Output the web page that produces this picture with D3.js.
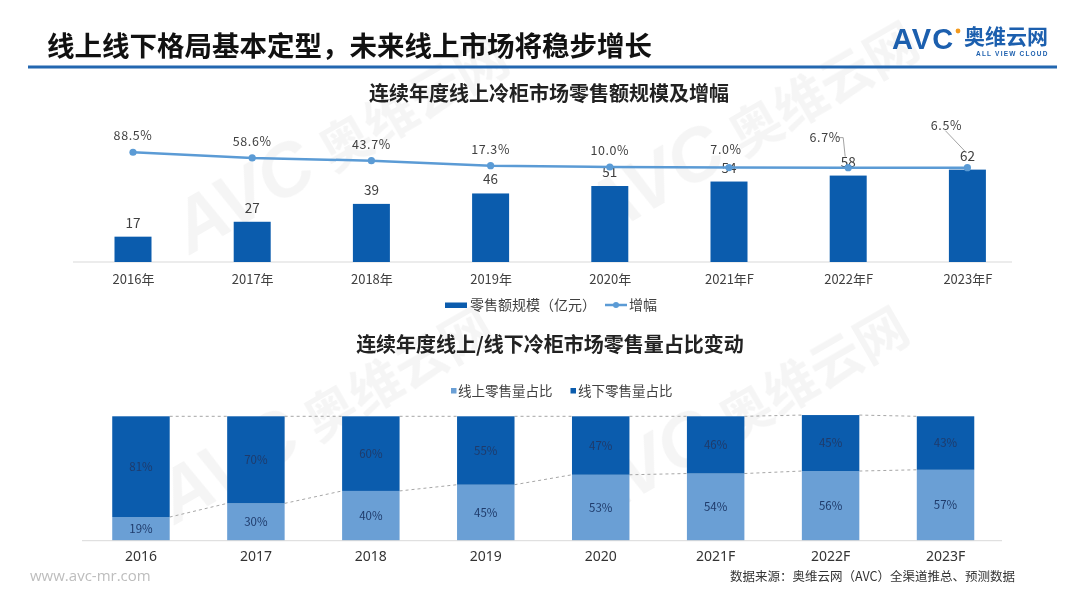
<!DOCTYPE html>
<html><head><meta charset="utf-8">
<script src="https://cdn.jsdelivr.net/npm/d3@7"></script>
<style>
html,body{margin:0;padding:0;background:#fff;}
svg{display:block;font-family:"Noto Sans CJK SC","Noto Sans",sans-serif;}
</style></head>
<body>
<svg id="c" width="1080" height="608"></svg>
<script>
// ---------- data ----------
const pageTitle = "线上线下格局基本定型，未来线上市场将稳步增长";
const title1 = "连续年度线上冷柜市场零售额规模及增幅";
const title2 = "连续年度线上/线下冷柜市场零售量占比变动";
const years1 = ["2016年","2017年","2018年","2019年","2020年","2021年F","2022年F","2023年F"];
const salesValues = [17, 27, 39, 46, 51, 54, 58, 62];          // 零售额规模（亿元）
const growthValues = [88.5, 58.6, 43.7, 17.3, 10.0, 7.0, 6.7, 6.5]; // 增幅 %
const legend1 = ["零售额规模（亿元）", "增幅"];
const years2 = ["2016","2017","2018","2019","2020","2021F","2022F","2023F"];
const onlineShare  = [19, 30, 40, 45, 53, 54, 56, 57];
const offlineShare = [81, 70, 60, 55, 47, 46, 45, 43];
const legend2 = ["线上零售量占比", "线下零售量占比"];
const sourceText = "数据来源：奥维云网（AVC）全渠道推总、预测数据";
const siteText = "www.avc-mr.com";

// ---------- styles ----------
const DARK = "#0b5cad", LIGHT = "#6a9fd5", LINE = "#5b9bd5", TXT = "#404040", INNER = "#1f3b6b";
const svg = d3.select("#c");

// faint watermarks
const wm = svg.append("g").attr("fill","#000").attr("opacity",0.04).style("pointer-events","none");
[[190,255],[600,240],[175,525],[590,525]].forEach(([x,y])=>{
  const g = wm.append("g").attr("transform",`translate(${x},${y}) rotate(-30)`);
  g.append("text").attr("font-family","Liberation Sans,Arial,sans-serif").attr("font-weight",700)
   .attr("font-style","italic").attr("font-size",74).text("AVC");
  g.append("text").attr("x",165).attr("font-weight",700).attr("font-size",52).text("奥维云网");
});

// header
svg.append("text").attr("x",47).attr("y",56).attr("font-size",27.5).attr("font-weight",700)
  .attr("fill","#111").text(pageTitle);
svg.append("line").attr("x1",28).attr("x2",1057).attr("y1",67).attr("y2",67)
  .attr("stroke","#2367b0").attr("stroke-width",3);
// logo
const logo = svg.append("g");
logo.append("text").attr("x",892).attr("y",49).attr("font-family","Liberation Sans,Arial,sans-serif")
  .attr("font-weight",700).attr("font-size",29).attr("letter-spacing",1).attr("fill","#1c5fae").text("AVC");
logo.append("circle").attr("cx",958).attr("cy",31).attr("r",2.4).attr("fill","#f39a1e");
logo.append("text").attr("x",964).attr("y",44).attr("font-weight",700).attr("font-size",21)
  .attr("fill","#1c5fae").text("奥维云网");
logo.append("text").attr("x",976).attr("y",56).attr("font-family","Liberation Sans,Arial,sans-serif")
  .attr("font-weight",700).attr("font-size",6.5).attr("letter-spacing",1.2).attr("fill","#1c5fae").text("ALL VIEW CLOUD");

// ---------- chart 1 ----------
svg.append("text").attr("x",549).attr("y",101).attr("text-anchor","middle").attr("font-size",20)
  .attr("font-weight",700).attr("fill","#222").text(title1);

const x1 = d3.scalePoint().domain(years1).range([73.4, 1027]).padding(0.5);
const y1 = d3.scaleLinear().domain([0,100]).range([262,113]);
const y2 = d3.scaleLinear().domain([0,100]).range([168.9,150.1]);
const BW1 = 37;

svg.append("line").attr("x1",73).attr("x2",1012).attr("y1",y1(0)).attr("y2",y1(0))
  .attr("stroke","#d9d9d9").attr("stroke-width",1);
const ax1 = svg.append("g").attr("transform",`translate(0,${y1(0)})`)
  .call(d3.axisBottom(x1).tickSize(0).tickPadding(13));
ax1.select(".domain").remove();
ax1.selectAll("text").attr("font-size",13).attr("fill",TXT).attr("font-family","\"Noto Sans CJK SC\",sans-serif");

const c1 = years1.map((y,i)=>({y, s:salesValues[i], g:growthValues[i]}));
svg.append("g").selectAll("rect").data(c1).join("rect")
  .attr("x",d=>x1(d.y)-BW1/2).attr("width",BW1)
  .attr("y",d=>y1(d.s)).attr("height",d=>y1(0)-y1(d.s)).attr("fill",DARK);
svg.append("g").selectAll("text").data(c1).join("text")
  .attr("x",d=>x1(d.y)).attr("y",d=>y1(d.s)-9).attr("text-anchor","middle")
  .attr("font-size",13.5).attr("fill",TXT).text(d=>d.s);

svg.append("path").datum(c1).attr("fill","none").attr("stroke",LINE).attr("stroke-width",2.5)
  .attr("d",d3.line().x(d=>x1(d.y)).y(d=>y2(d.g)));
svg.append("g").selectAll("circle").data(c1).join("circle")
  .attr("cx",d=>x1(d.y)).attr("cy",d=>y2(d.g)).attr("r",3.6).attr("fill",LINE);

// growth labels (last two are displaced with leader lines)
const gOff = c1.map((d,i)=> i===6 ? [-23,-26] : i===7 ? [-21,-38] : i===5 ? [-3,-14] : [0,-12]);
svg.append("g").selectAll("text").data(c1).join("text")
  .attr("x",(d,i)=>x1(d.y)+gOff[i][0]).attr("y",(d,i)=>y2(d.g)+gOff[i][1])
  .attr("text-anchor","middle").attr("font-size",12.5).attr("letter-spacing",0.6)
  .attr("fill",TXT).text(d=>d.g.toFixed(1)+"%");
const lead = svg.append("g").attr("stroke","#8c8c8c").attr("stroke-width",0.8).attr("fill","none");
{
  const p6 = [x1(years1[6]), y2(growthValues[6])];
  lead.append("path").attr("d",`M${p6[0]-11},${p6[1]-30} L${p6[0]-5},${p6[1]-30} L${p6[0]-3},${p6[1]-11}`);
  const p7 = [x1(years1[7]), y2(growthValues[7])];
  lead.append("path").attr("d",`M${p7[0]-22},${p7[1]-37} L${p7[0]-2},${p7[1]-16}`);
}

// legend 1
const lg1 = svg.append("g");
lg1.append("rect").attr("x",445).attr("y",302.5).attr("width",22).attr("height",5.5).attr("fill",DARK);
lg1.append("text").attr("x",470).attr("y",310).attr("font-size",14).attr("fill",TXT).text(legend1[0]);
lg1.append("line").attr("x1",605).attr("x2",627).attr("y1",305).attr("y2",305).attr("stroke",LINE).attr("stroke-width",2.5);
lg1.append("circle").attr("cx",616).attr("cy",305).attr("r",3).attr("fill",LINE);
lg1.append("text").attr("x",629).attr("y",310).attr("font-size",14).attr("fill",TXT).text(legend1[1]);

// ---------- chart 2 ----------
svg.append("text").attr("x",550).attr("y",352).attr("text-anchor","middle").attr("font-size",20)
  .attr("font-weight",700).attr("fill","#222").text(title2);

const lg2 = svg.append("g");
lg2.append("rect").attr("x",451).attr("y",388).attr("width",5.5).attr("height",5.5).attr("fill",LIGHT);
lg2.append("text").attr("x",458).attr("y",395.5).attr("font-size",13.5).attr("fill",TXT).text(legend2[0]);
lg2.append("rect").attr("x",570.5).attr("y",388).attr("width",5.5).attr("height",5.5).attr("fill",DARK);
lg2.append("text").attr("x",578).attr("y",395.5).attr("font-size",13.5).attr("fill",TXT).text(legend2[1]);

const x2 = d3.scaleBand().domain(years2).range([83.5,1003]).paddingInner(0.5).paddingOuter(0.25);
const y3 = d3.scaleLinear().domain([0,100]).range([540.7,416.3]);
const rows = years2.map((y,i)=>({y, online:onlineShare[i], offline:offlineShare[i]}));
const stacked = d3.stack().keys(["online","offline"])(rows);
const col = {online:LIGHT, offline:DARK};

// dashed connectors
const dash = svg.append("g").attr("stroke","#a6a6a6").attr("stroke-width",1).attr("stroke-dasharray","3,3").attr("fill","none");
stacked.forEach(s=>{
  for(let i=0;i<s.length-1;i++){
    dash.append("line").attr("x1",x2(years2[i])+x2.bandwidth()).attr("x2",x2(years2[i+1]))
      .attr("y1",y3(s[i][1])).attr("y2",y3(s[i+1][1]));
  }
});

svg.append("g").selectAll("g").data(stacked).join("g").attr("fill",s=>col[s.key])
  .selectAll("rect").data(s=>s).join("rect")
  .attr("x",d=>x2(d.data.y)).attr("width",x2.bandwidth())
  .attr("y",d=>y3(d[1])).attr("height",d=>y3(d[0])-y3(d[1]));
svg.append("g").selectAll("g").data(stacked).join("g")
  .selectAll("text").data(s=>s).join("text")
  .attr("x",d=>x2(d.data.y)+x2.bandwidth()/2).attr("y",d=>(y3(d[0])+y3(d[1]))/2+4)
  .attr("text-anchor","middle").attr("font-size",11.5).attr("fill",INNER)
  .text(d=>(d[1]-d[0])+"%");

svg.append("line").attr("x1",82).attr("x2",1002).attr("y1",y3(0)).attr("y2",y3(0))
  .attr("stroke","#d9d9d9").attr("stroke-width",1);
const ax2 = svg.append("g").attr("transform",`translate(0,${y3(0)})`)
  .call(d3.axisBottom(x2).tickSize(0).tickPadding(10));
ax2.select(".domain").remove();
ax2.selectAll("text").attr("font-size",14).attr("fill","#333").attr("font-family","\"Noto Sans\",sans-serif");

// footer
svg.append("text").attr("x",30).attr("y",581).attr("font-size",15).attr("fill","#bdbdbd")
  .attr("font-family","\"Open Sans\",sans-serif").text(siteText);
svg.append("text").attr("x",730).attr("y",581).attr("font-size",12.5).attr("fill","#333").text(sourceText);
</script>
</body></html>
